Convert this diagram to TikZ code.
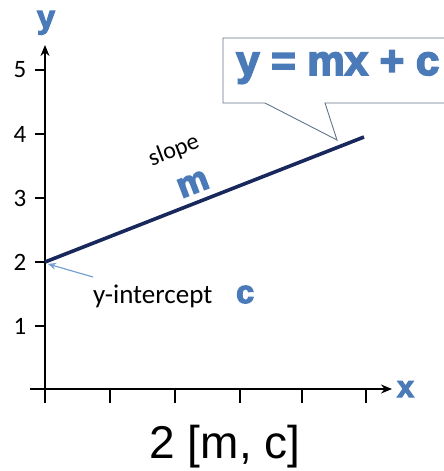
\documentclass[tikz,border=0pt]{standalone}
\usepackage{fontspec}
\setmainfont{Carlito}
\newfontfamily\arialf{Liberation Sans}
\newfontfamily\heavyf[FakeBold=4]{Liberation Sans Bold}
\usetikzlibrary{arrows.meta}
\definecolor{eqblue}{RGB}{74,122,184}
\definecolor{navy}{RGB}{24,40,92}
\definecolor{arrblue}{RGB}{120,160,210}
\definecolor{boxline}{RGB}{100,115,140}
\begin{document}
\begin{tikzpicture}[x=1pt,y=-1pt,
  axis/.style={line width=2.2pt,black},
  tickl/.style={font=\fontsize{25}{25}\selectfont, anchor=center},
  bluelbl/.style={text=eqblue, inner sep=0pt},
  plain/.style={font=\fontsize{27}{27}\selectfont, inner sep=0pt}]
\useasboundingbox (0,0) rectangle (444,471);
% axes
\coordinate (yb) at (45,402);
\coordinate (yt) at (45,45);
\coordinate (xl) at (30,389);
\coordinate (xr) at (392,389);
\draw[axis,-{Stealth[length=11pt,width=9pt]}] (yb) -- (yt);
\draw[axis,-{Stealth[length=11pt,width=9pt]}] (xl) -- (xr);
% y ticks
\foreach \v/\yy in {5/70,4/134,3/198,2/262,1/326}{
  \draw[axis] (35,\yy) -- (45,\yy);
  \node[tickl] (t\v) at (20,\yy) {\v};
}
% x ticks
\foreach \xx in {45,110,175,240,302,366}{
  \draw[axis] (\xx,389) -- (\xx,403);
}
% axis labels
\node[bluelbl,font=\heavyf\fontsize{32}{32}\selectfont,anchor=base] (ylab) at (46,28) {y};
\node[bluelbl,font=\heavyf\fontsize{30}{30}\selectfont,anchor=base west] (xlab) at (397,397) {x};
% line
\coordinate (p0) at (45,262);
\coordinate (p1) at (364,137);
\draw[navy,line width=3.6pt] (p0) -- (p1);
% callout
\coordinate (tip) at (337,140);
\draw[boxline,line width=0.9pt,fill=white] (450,38) -- (223,38) -- (223,103) -- (265,103) -- (tip) -- (325,103) -- (450,103);
\node[bluelbl,font=\heavyf\fontsize{42}{42}\selectfont,anchor=base west] (eq) at (236,75) {y = mx + c};
% slope and m
\node[plain,font=\fontsize{24}{24}\selectfont,rotate=21] (slope) at (174,151) {slope};
\node[bluelbl,font=\heavyf\fontsize{35}{35}\selectfont,rotate=21] (m) at (193,184) {m};
% intercept
\node[plain,anchor=base west] (yint) at (93,303) {y-intercept};
\node[bluelbl,font=\heavyf\fontsize{32}{32}\selectfont,anchor=base west] (c) at (236,303) {c};
\coordinate (as) at (93,277);
\draw[arrblue,line width=1.2pt,-{Stealth[length=8pt,width=7pt]}] (as) -- (48,264);
% caption
\node[font=\arialf\fontsize{46}{46}\selectfont,anchor=base,inner sep=0pt] (cap) at (225,458) {2 [m, c]};
\end{tikzpicture}
\end{document}
